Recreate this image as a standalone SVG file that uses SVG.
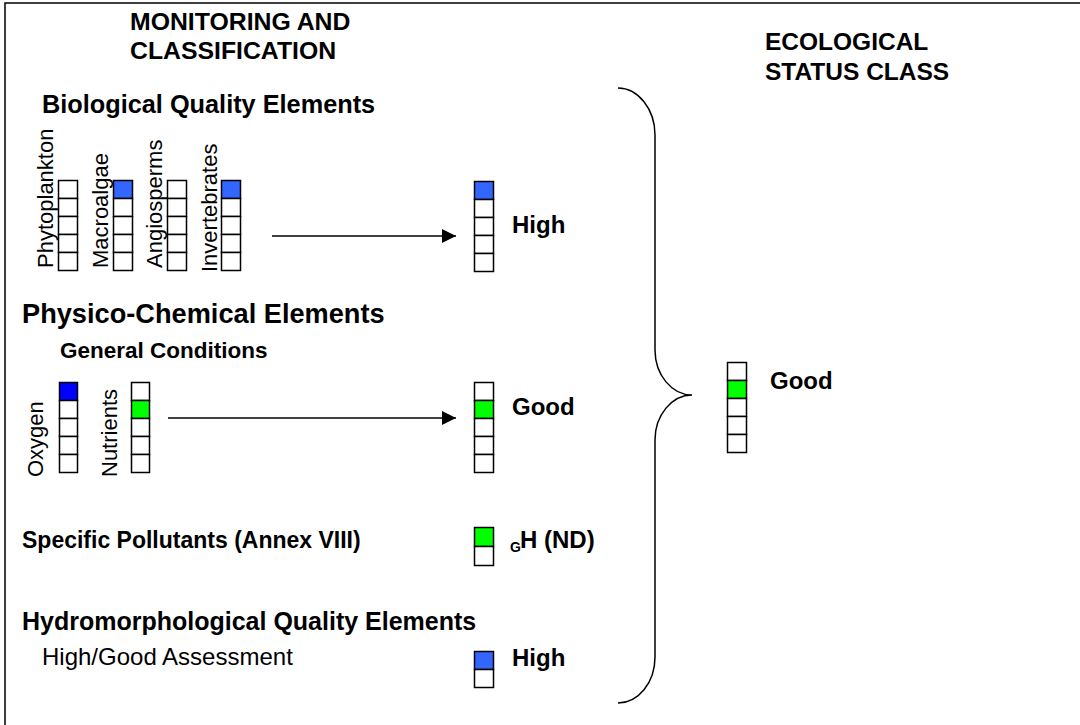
<svg xmlns="http://www.w3.org/2000/svg" width="1080" height="725" viewBox="0 0 1080 725">
<defs>
<style>
.b{font-family:"Liberation Sans",Arial,sans-serif;font-weight:bold;fill:#000}
.r{font-family:"Liberation Sans",Arial,sans-serif;fill:#000}
.c{fill:#fff;stroke:#000;stroke-width:1.5}
.cb{fill:#3366ff;stroke:#000;stroke-width:1.5}
.cd{fill:#0000ff;stroke:#000;stroke-width:1.5}
.cg{fill:#00ff00;stroke:#000;stroke-width:1.5}
.ln{fill:none;stroke:#000;stroke-width:1.5}
</style>
<marker id="ah" viewBox="0 0 10 10" refX="10" refY="5" markerWidth="14" markerHeight="14" markerUnits="userSpaceOnUse" orient="auto">
<path d="M0,0 L10,5 L0,10 Z" fill="#000"/>
</marker>
</defs>
<rect width="1080" height="725" fill="#fff"/>
<path class="ln" d="M5,725 L5,3 L1080,3"/>

<g id="headers">
<text class="b" x="130" y="30" font-size="24.8">MONITORING AND</text>
<text class="b" x="130" y="59" font-size="24.8">CLASSIFICATION</text>
<text class="b" x="765" y="50" font-size="24.5">ECOLOGICAL</text>
<text class="b" x="765" y="80" font-size="24.5">STATUS CLASS</text>
</g>

<g id="bio">
<text class="b" x="42" y="113" font-size="25.3">Biological Quality Elements</text>
<g id="phytoplankton">
<text class="r" font-size="22" transform="translate(53,268) rotate(-90)">Phytoplankton</text>
<rect class="c" x="58.5" y="180.5" width="19" height="18"/>
<rect class="c" x="58.5" y="198.5" width="19" height="18"/>
<rect class="c" x="58.5" y="216.5" width="19" height="18"/>
<rect class="c" x="58.5" y="234.5" width="19" height="18"/>
<rect class="c" x="58.5" y="252.5" width="19" height="18"/>
</g>
<g id="macroalgae">
<text class="r" font-size="22" transform="translate(108,268) rotate(-90)">Macroalgae</text>
<rect class="cb" x="113.5" y="180.5" width="19" height="18"/>
<rect class="c" x="113.5" y="198.5" width="19" height="18"/>
<rect class="c" x="113.5" y="216.5" width="19" height="18"/>
<rect class="c" x="113.5" y="234.5" width="19" height="18"/>
<rect class="c" x="113.5" y="252.5" width="19" height="18"/>
</g>
<g id="angiosperms">
<text class="r" font-size="22" transform="translate(162,268) rotate(-90)">Angiosperms</text>
<rect class="c" x="167.5" y="180.5" width="19" height="18"/>
<rect class="c" x="167.5" y="198.5" width="19" height="18"/>
<rect class="c" x="167.5" y="216.5" width="19" height="18"/>
<rect class="c" x="167.5" y="234.5" width="19" height="18"/>
<rect class="c" x="167.5" y="252.5" width="19" height="18"/>
</g>
<g id="invertebrates">
<text class="r" font-size="22" transform="translate(217,272) rotate(-90)">Invertebrates</text>
<rect class="cb" x="221.5" y="180.5" width="19" height="18"/>
<rect class="c" x="221.5" y="198.5" width="19" height="18"/>
<rect class="c" x="221.5" y="216.5" width="19" height="18"/>
<rect class="c" x="221.5" y="234.5" width="19" height="18"/>
<rect class="c" x="221.5" y="252.5" width="19" height="18"/>
</g>
</g>

<g id="bio-result">
<rect class="cb" x="474.5" y="181.5" width="19" height="18"/>
<rect class="c" x="474.5" y="199.5" width="19" height="18"/>
<rect class="c" x="474.5" y="217.5" width="19" height="18"/>
<rect class="c" x="474.5" y="235.5" width="19" height="18"/>
<rect class="c" x="474.5" y="253.5" width="19" height="18"/>
<text class="b" x="512" y="233" font-size="24">High</text>
</g>

<g id="physchem">
<text class="b" x="22" y="323" font-size="27.2">Physico-Chemical Elements</text>
<text class="b" x="60" y="358" font-size="22.5">General Conditions</text>
<g id="oxygen">
<text class="r" font-size="22" transform="translate(43,477) rotate(-90)">Oxygen</text>
<rect class="cd" x="59.5" y="382.5" width="18" height="18"/>
<rect class="c" x="59.5" y="400.5" width="18" height="18"/>
<rect class="c" x="59.5" y="418.5" width="18" height="18"/>
<rect class="c" x="59.5" y="436.5" width="18" height="18"/>
<rect class="c" x="59.5" y="454.5" width="18" height="18"/>
</g>
<g id="nutrients">
<text class="r" font-size="22" transform="translate(117,477) rotate(-90)">Nutrients</text>
<rect class="c" x="131.5" y="382.5" width="18" height="18"/>
<rect class="cg" x="131.5" y="400.5" width="18" height="18"/>
<rect class="c" x="131.5" y="418.5" width="18" height="18"/>
<rect class="c" x="131.5" y="436.5" width="18" height="18"/>
<rect class="c" x="131.5" y="454.5" width="18" height="18"/>
</g>
</g>

<g id="physchem-result">
<rect class="c" x="474.5" y="382.5" width="19" height="18"/>
<rect class="cg" x="474.5" y="400.5" width="19" height="18"/>
<rect class="c" x="474.5" y="418.5" width="19" height="18"/>
<rect class="c" x="474.5" y="436.5" width="19" height="18"/>
<rect class="c" x="474.5" y="454.5" width="19" height="18"/>
<text class="b" x="512" y="415" font-size="24">Good</text>
</g>

<g id="pollutants">
<text class="b" x="22" y="548" font-size="23">Specific Pollutants (Annex VIII)</text>
<rect class="cg" x="474.5" y="527.5" width="19" height="19"/>
<rect class="c" x="474.5" y="546.5" width="19" height="19"/>
<text class="b" x="510" y="552" font-size="14">G</text>
<text class="b" x="520" y="548" font-size="24">H (ND)</text>
</g>

<g id="hydro">
<text class="b" x="22" y="630" font-size="25">Hydromorphological Quality Elements</text>
<text class="r" x="42" y="665" font-size="24">High/Good Assessment</text>
<rect class="cb" x="474.5" y="651.5" width="19" height="18"/>
<rect class="c" x="474.5" y="669.5" width="19" height="18"/>
<text class="b" x="512" y="666" font-size="24">High</text>
</g>

<g id="ecological">
<rect class="c" x="727.5" y="362.5" width="19" height="18"/>
<rect class="cg" x="727.5" y="380.5" width="19" height="18"/>
<rect class="c" x="727.5" y="398.5" width="19" height="18"/>
<rect class="c" x="727.5" y="416.5" width="19" height="18"/>
<rect class="c" x="727.5" y="434.5" width="19" height="18"/>
<text class="b" x="770" y="389" font-size="24">Good</text>
</g>

<g id="connectors">
<line class="ln" x1="272" y1="236" x2="456" y2="236" marker-end="url(#ah)"/>
<line class="ln" x1="168" y1="418" x2="456" y2="418" marker-end="url(#ah)"/>
<path class="ln" d="M618,88 C638,88 655,109 655,135 L655,350 C655,375 672,395 692,395 C672,395 655,415 655,440 L655,657 C655,683 638,703 618,703"/>
</g>
</svg>
